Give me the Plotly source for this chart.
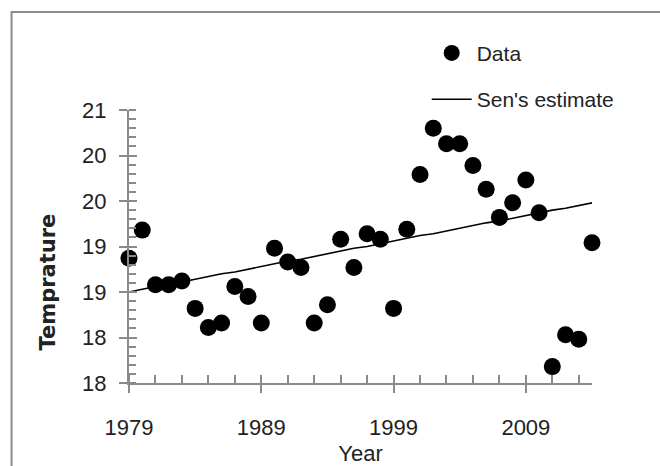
import plotly.graph_objects as go

years = list(range(1979, 2015))
temperature = [18.87, 19.18, 18.58, 18.58, 18.62, 18.32, 18.11, 18.16, 18.56, 18.45,
               18.16, 18.98, 18.83, 18.77, 18.16, 18.36, 19.08, 18.77, 19.14, 19.08,
               18.32, 19.19, 19.79, 20.30, 20.13, 20.13, 19.89, 19.63, 19.32, 19.48,
               19.73, 19.37, 17.68, 18.03, 17.98, 19.04]
sen_estimate = [18.50, 18.53, 18.56, 18.58, 18.61, 18.64, 18.67, 18.70, 18.72, 18.75,
                18.78, 18.81, 18.84, 18.86, 18.89, 18.92, 18.95, 18.98, 19.00, 19.03,
                19.06, 19.09, 19.12, 19.14, 19.17, 19.20, 19.23, 19.26, 19.28, 19.31,
                19.34, 19.37, 19.40, 19.42, 19.45, 19.48]
x_ticks = [1979, 1989, 1999, 2009]
y_ticks = [17.5, 18.0, 18.5, 19.0, 19.5, 20.0, 20.5]
y_tick_labels = ["18", "18", "19", "19", "20", "20", "21"]

FONT = "Liberation Sans, Arial, sans-serif"
AX = "#8a8a8a"
TXT = "#222222"

fig = go.Figure()
fig.add_trace(go.Scatter(
    x=years, y=temperature, mode="markers", name="Data",
    marker=dict(color="black", size=17, symbol="circle"),
    cliponaxis=False, legendgroup="a"))
fig.add_trace(go.Scatter(
    x=years, y=sen_estimate, mode="lines", name="Sen's estimate",
    line=dict(color="black", width=1.6), cliponaxis=False, legendgroup="b"))
# invisible trace to carry the inside major ticks overlay axes
fig.add_trace(go.Scatter(x=[None], y=[None], xaxis="x2", yaxis="y2",
                         showlegend=False, hoverinfo="skip"))

fig.update_layout(
    width=660, height=466,
    margin=dict(l=129, r=68, t=110, b=83, autoexpand=False),
    paper_bgcolor="white", plot_bgcolor="white",
    font=dict(family=FONT, size=22, color=TXT),
    showlegend=True,
    legend=dict(x=0.643, y=1.283, xanchor="left", yanchor="top",
                font=dict(size=21, color=TXT), tracegroupgap=16,
                bgcolor="rgba(0,0,0,0)", itemwidth=40),
    xaxis=dict(range=[1979, 2014], tickvals=x_ticks,
               showgrid=False, zeroline=False,
               showline=True, linecolor=AX, linewidth=2,
               ticks="outside", ticklen=8, tickwidth=1.5, tickcolor=AX,
               minor=dict(dtick=2, tick0=1979, ticks="inside", ticklen=8,
                          tickwidth=1.5, tickcolor=AX, showgrid=False),
               ticklabelstandoff=16,
               tickfont=dict(size=22, color=TXT),
               title=dict(text="Year", font=dict(size=22, color=TXT), standoff=11)),
    yaxis=dict(range=[17.5, 20.5], tickvals=y_ticks, ticktext=y_tick_labels,
               showgrid=False, zeroline=False,
               showline=True, linecolor=AX, linewidth=2,
               ticks="outside", ticklen=8, tickwidth=1.5, tickcolor=AX,
               minor=dict(dtick=0.1, ticks="inside", ticklen=7,
                          tickwidth=1.5, tickcolor=AX, showgrid=False),
               ticklabelstandoff=8,
               tickfont=dict(size=22, color=TXT)),
    xaxis2=dict(overlaying="x", matches="x", range=[1979, 2014], tickvals=x_ticks,
                ticks="inside", ticklen=8, tickwidth=1.5, tickcolor=AX,
                showticklabels=False, showgrid=False, zeroline=False, showline=False,
                anchor="y"),
    yaxis2=dict(overlaying="y", matches="y", range=[17.5, 20.5], tickvals=y_ticks,
                ticks="inside", ticklen=8, tickwidth=1.5, tickcolor=AX,
                showticklabels=False, showgrid=False, zeroline=False, showline=False,
                anchor="x", side="left"),
    annotations=[dict(text="<b>Temprature</b>", textangle=-90,
                      xref="paper", yref="paper", x=-0.176, y=0.37,
                      xanchor="center", yanchor="middle", showarrow=False,
                      font=dict(family="DejaVu Sans, sans-serif", size=21, color=TXT))],
    shapes=[dict(type="rect", xref="paper", yref="paper",
                 x0=-0.2537, x1=1.3, y0=-0.5, y1=1.3586,
                 line=dict(color="#8c8c8c", width=2), layer="below")],
)

fig.write_html("out.html", config={"displayModeBar": False},
               post_script="document.body.style.margin='0';document.body.style.padding='0';")
